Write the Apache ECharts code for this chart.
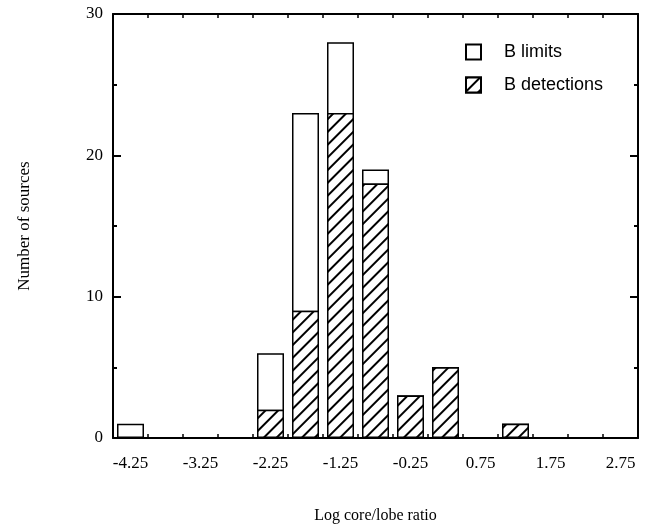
<!DOCTYPE html>
<html>
<head>
<meta charset="utf-8">
<script src="https://cdn.jsdelivr.net/npm/echarts@6/dist/echarts.min.js"></script>
<style>
html,body{margin:0;padding:0;background:#fff;}
#chart{width:647px;height:529px;}
</style>
</head>
<body>
<div id="chart"></div>
<script>
// Bin centres (log core/lobe ratio) and counts
const binCenters = [-4.25, -2.25, -1.75, -1.25, -0.75, -0.25, 0.25, 1.25];
const detections = [0, 2, 9, 23, 18, 3, 5, 1];
const limits     = [1, 4, 14, 5, 1, 0, 0, 0];
// Axis tick marks (bin edges) and tick labels
const xTickValues = [-4, -3.5, -3, -2.5, -2, -1.5, -1, -0.5, 0, 0.5, 1, 1.5, 2, 2.5];
const xLabelValues = [-4.25, -3.25, -2.25, -1.25, -0.25, 0.75, 1.75, 2.75];
const yLabelValues = [0, 10, 20, 30];

const serif = '"Liberation Serif", "Times New Roman", serif';
const sans = '"Liberation Sans", Arial, sans-serif';

const chart = echarts.init(document.getElementById('chart'), null, {renderer: 'canvas'});

const lineStyle = {color: '#000', width: 2};
const hatch = {
  symbol: 'rect', symbolSize: 1,
  dashArrayX: [1, 0], dashArrayY: [1.3, 7],
  rotation: -Math.PI / 4,
  color: '#000', backgroundColor: '#fff'
};

// limits are stacked on top of detections: white bar = detections + limits,
// hatched detections bar drawn over its lower part
const totals = binCenters.map((x, i) => [x, detections[i] + limits[i]]);
const detData = binCenters.map((x, i) => [x, detections[i]]).filter(d => d[1] > 0);

chart.setOption({
  backgroundColor: '#fff',
  animation: false,
  grid: {left: 113, right: 9, top: 14, bottom: 89},
  legend: {
    orient: 'vertical', left: 460, top: 38,
    icon: 'rect', itemWidth: 15, itemHeight: 15, itemGap: 15,
    textStyle: {fontFamily: sans, fontSize: 18, lineHeight: 18, color: '#000', padding: [0, 0, 0, 18]},
    data: ['B limits', 'B detections']
  },
  xAxis: [{
    type: 'value', position: 'bottom', min: -4.5, max: 3,
    axisLine: {onZero: false, lineStyle: lineStyle},
    axisTick: {inside: true, length: 4, customValues: xTickValues, lineStyle: {color: '#000', width: 1.5}},
    axisLabel: {customValues: xLabelValues, fontFamily: serif, fontSize: 17, color: '#000', margin: 17},
    splitLine: {show: false},
    name: 'Log core/lobe ratio', nameLocation: 'middle', nameGap: 70,
    nameTextStyle: {fontFamily: serif, fontSize: 16, color: '#000'}
  }, {
    type: 'value', position: 'top', min: -4.5, max: 3,
    axisLine: {onZero: false, lineStyle: lineStyle},
    axisTick: {inside: true, length: 4, customValues: xTickValues, lineStyle: {color: '#000', width: 1.5}},
    axisLabel: {show: false},
    splitLine: {show: false}
  }],
  yAxis: [{
    type: 'value', position: 'left', min: 0, max: 30, interval: 10,
    axisLine: {show: true, onZero: false, lineStyle: lineStyle},
    axisTick: {show: true, inside: true, length: 8, lineStyle: {color: '#000', width: 2}},
    minorTick: {show: true, splitNumber: 2, length: 4, lineStyle: {color: '#000', width: 2}},
    axisLabel: {customValues: yLabelValues, fontFamily: serif, fontSize: 17, color: '#000', margin: 10},
    splitLine: {show: false},
    name: 'Number of sources', nameLocation: 'middle', nameGap: 80,
    nameTextStyle: {fontFamily: serif, fontSize: 17, color: '#000'}
  }, {
    type: 'value', position: 'right', min: 0, max: 30, interval: 10,
    axisLine: {show: true, onZero: false, lineStyle: lineStyle},
    axisTick: {show: true, inside: true, length: 8, lineStyle: {color: '#000', width: 2}},
    minorTick: {show: true, splitNumber: 2, length: 4, lineStyle: {color: '#000', width: 2}},
    axisLabel: {show: false},
    splitLine: {show: false}
  }],
  series: [{
    name: 'B limits', type: 'bar', barWidth: 27, barGap: '-100%',
    xAxisIndex: 0, yAxisIndex: 0,
    itemStyle: {color: '#fff', borderColor: '#000', borderWidth: 1.5},
    data: totals
  }, {
    name: 'B detections', type: 'bar', barWidth: 27, barGap: '-100%',
    xAxisIndex: 0, yAxisIndex: 0,
    itemStyle: {color: '#fff', borderColor: '#000', borderWidth: 1.5, decal: hatch},
    data: detData
  }]
});
</script>
</body>
</html>
